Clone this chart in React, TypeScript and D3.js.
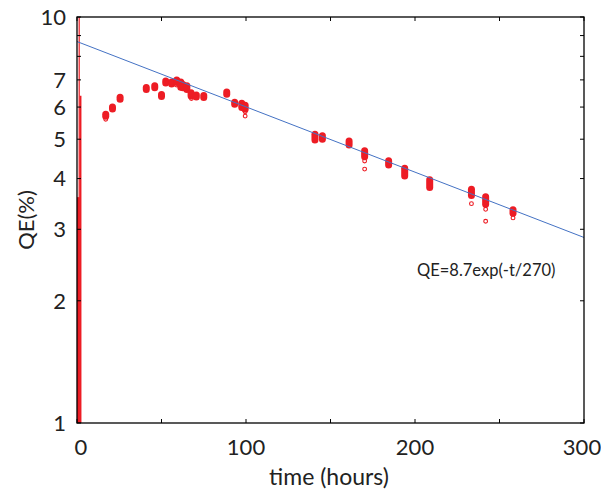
import * as d3 from 'd3'

// cluster readings: time (hours), highest and lowest QE (%) in each cluster
const times = [17, 21, 25.5, 41, 46, 50, 52.5, 56, 59, 61.4, 62.7, 65, 67.5, 70.6, 75, 88.6, 93.3, 97.5, 99.5, 140.8, 145.2, 161, 170.2, 184.4, 193.9, 208.7, 233.4, 241.8, 258]
const qeMax = [5.84, 6.09, 6.43, 6.8, 6.87, 6.54, 7.06, 7.02, 7.1, 7.02, 6.92, 6.87, 6.6, 6.52, 6.5, 6.63, 6.25, 6.22, 6.15, 5.22, 5.17, 5.02, 4.75, 4.49, 4.3, 4.03, 3.82, 3.66, 3.4]
const qeMin = [5.62, 5.9, 6.19, 6.58, 6.7, 6.35, 6.87, 6.9, 6.8, 6.62, 6.6, 6.54, 6.3, 6.3, 6.28, 6.36, 6.07, 5.9, 5.84, 4.91, 4.93, 4.77, 4.46, 4.26, 4.0, 3.75, 3.58, 3.41, 3.24]

// scattered single readings (open markers)
const outTimes = [17, 58.8, 67.7, 99.5, 99.5, 170.2, 170.2, 233.4, 241.8, 241.8, 258]
const outQE = [5.6, 6.8, 6.3, 5.84, 5.7, 4.42, 4.22, 3.47, 3.36, 3.14, 3.2]

// start-up spikes near t = 0
const spikeT = [0.8, 1.3, 2.1]
const spikeHi = [3.6, 10, 6.4]

// fit QE = 8.7 exp(-t/270)
const fitA = 8.7
const fitTau = 270
const fitT = [0, 300]

const yTicks = [1, 2, 3, 4, 5, 6, 7, 8, 9, 10]
const yLabels = [1, 2, 3, 4, 5, 6, 7, 10]
const xTicks = [0, 50, 100, 150, 200, 250, 300]
const xLabels = [0, 100, 200, 300]

const red = '#ed1c24'
const font = 'Lato, "Open Sans", sans-serif'

const App = () => {
  const width = 601
  const height = 491
  const margin = { top: 17, right: 17, bottom: 68, left: 77 }

  const x = d3.scaleLinear().domain([0, 300]).range([margin.left, width - margin.right])
  const y = d3.scaleLog().domain([1, 10]).range([height - margin.bottom, margin.top])

  const fitLine = d3.line<number>()
    .x(t => x(t))
    .y(t => y(fitA * Math.exp(-t / fitTau)))

  const x0 = margin.left
  const x1 = width - margin.right
  const y0 = height - margin.bottom
  const y1 = margin.top

  return (
    <svg width={width} height={height} style={{ position: 'absolute', left: 0, top: 0, background: '#fff' }}>
      {/* spikes */}
      {spikeT.map((t, i) => (
        <line key={'s' + i} x1={x(t)} x2={x(t)} y1={y(1)} y2={y(spikeHi[i])}
          stroke={red} strokeWidth={i === 0 ? 2.8 : i === 1 ? 1.2 : 1.8} />
      ))}

      {/* clusters */}
      {times.map((t, i) => {
        const top = y(qeMax[i]) - 1
        const h = Math.max(9, y(qeMin[i]) - top + 1)
        return <rect key={'c' + i} x={x(t) - 3.5} y={top} width={7} height={h} rx={3.5} fill={red} />
      })}

      {outTimes.map((t, i) => (
        <circle key={'o' + i} cx={x(t)} cy={y(outQE[i])} r={1.9} fill="none" stroke={red} strokeWidth={1.1} />
      ))}

      {/* fit */}
      <path d={fitLine(fitT) ?? ''} fill="none" stroke="#4472c4" strokeWidth={1} />

      {/* frame */}
      <rect x={x0} y={y1} width={x1 - x0} height={y0 - y1} fill="none" stroke="#000" strokeWidth={1.3} />

      {/* y ticks */}
      {yTicks.map(v => (
        <g key={'yt' + v}>
          <line x1={x0} x2={x0 + 4} y1={y(v)} y2={y(v)} stroke="#000" />
          <line x1={x1} x2={x1 - 4} y1={y(v)} y2={y(v)} stroke="#000" />
        </g>
      ))}
      {yLabels.map(v => (
        <text key={'yl' + v} x={x0 - 11} y={y(v)} dy="0.36em" textAnchor="end"
          fontFamily={font} fontSize={22} fill="#222">{v}</text>
      ))}

      {/* x ticks */}
      {xTicks.map(v => (
        <g key={'xt' + v}>
          <line x1={x(v)} x2={x(v)} y1={y0} y2={y0 - 4} stroke="#000" />
          <line x1={x(v)} x2={x(v)} y1={y1} y2={y1 + 4} stroke="#000" />
        </g>
      ))}
      {xLabels.map(v => (
        <text key={'xl' + v} x={x(v) + (v === 0 ? 4 : v === 300 ? -2 : 0)} y={y0 + 32} textAnchor="middle"
          fontFamily={font} fontSize={22} fill="#222">{v}</text>
      ))}

      <text x={329} y={height - 6} textAnchor="middle" fontFamily={font} fontSize={23} fill="#222">time (hours)</text>
      <text transform={`translate(34,${(y0 + y1) / 2}) rotate(-90)`} textAnchor="middle"
        fontFamily={font} fontSize={22} fill="#222">QE(%)</text>

      <text x={417} y={276} fontFamily={font} fontSize={16.5} fill="#222">QE=8.7exp(-t/270)</text>
    </svg>
  )
}

export default App
